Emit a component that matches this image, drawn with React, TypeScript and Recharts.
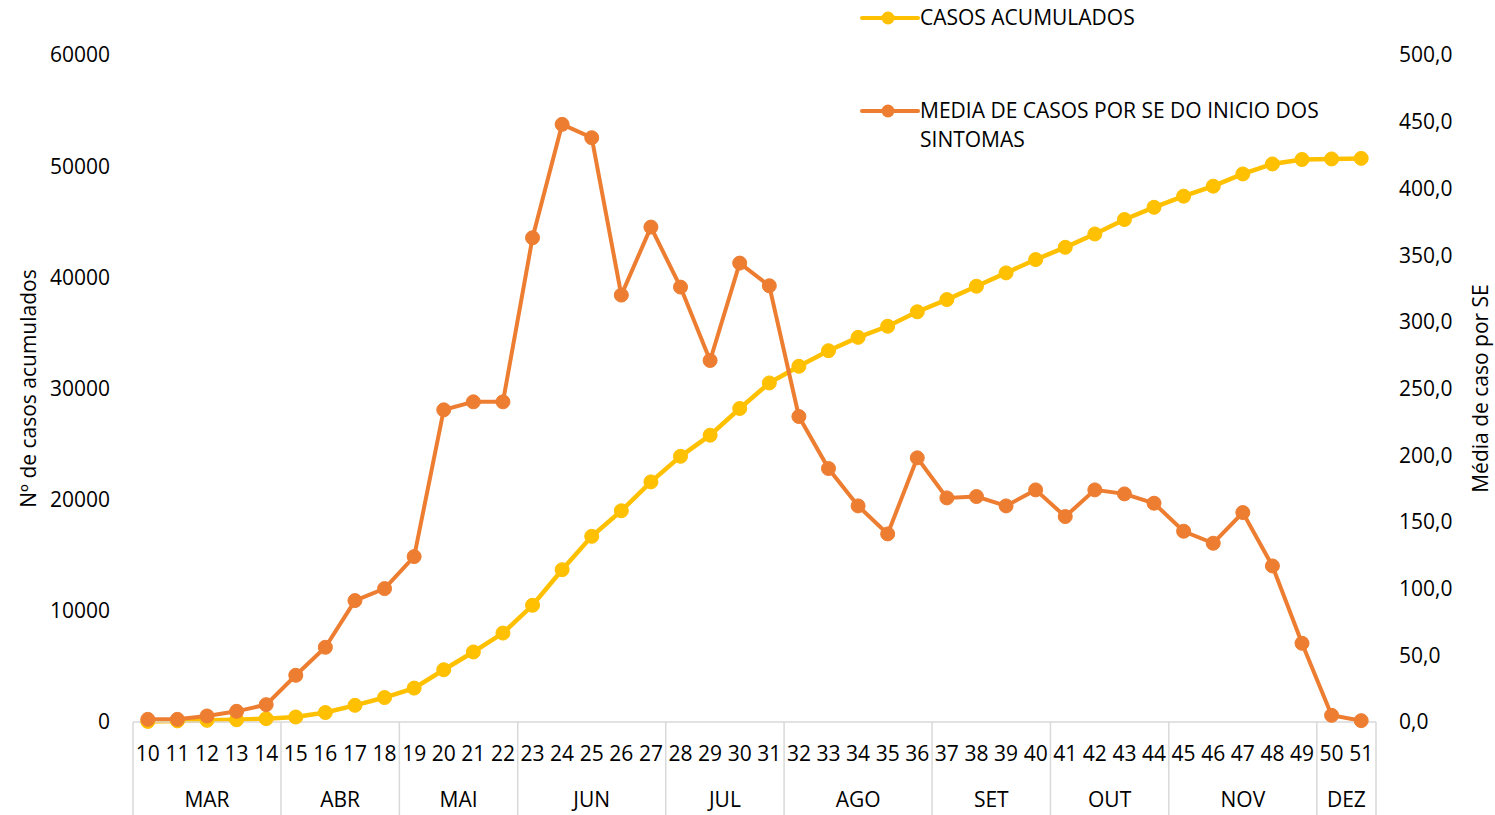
import React from "react";
import { Line, LineChart, XAxis, YAxis } from "recharts";

const weeks = [
  "10", "11", "12", "13", "14", "15", "16", "17", "18", "19", "20", "21", "22", "23",
  "24", "25", "26", "27", "28", "29", "30", "31", "32", "33", "34", "35", "36", "37",
  "38", "39", "40", "41", "42", "43", "44", "45", "46", "47", "48", "49", "50", "51",
];

const monthNames = ["MAR", "ABR", "MAI", "JUN", "JUL", "AGO", "SET", "OUT", "NOV", "DEZ"];
const monthSpans = [5, 4, 4, 5, 4, 5, 4, 4, 5, 2];

const casosAcumulados = [
  50, 100, 150, 200, 300, 450, 850, 1500, 2200, 3050, 4700, 6300, 8000, 10500,
  13700, 16700, 19000, 21600, 23900, 25800, 28200, 30500, 32000, 33400, 34600, 35600, 36900, 38000,
  39200, 40400, 41600, 42700, 43900, 45200, 46300, 47300, 48200, 49300, 50200, 50600, 50650, 50700,
];

const mediaCasos = [
  2, 2, 4.5, 8, 13, 35, 56, 91, 100, 124, 234, 240, 240, 363,
  448, 438, 320, 371, 326, 271, 344, 327, 229, 190, 162, 141, 198, 168,
  169, 162, 174, 154, 174, 171, 164, 143, 134, 157, 117, 59, 5, 1,
];

const leftTicks = [0, 10000, 20000, 30000, 40000, 50000, 60000];
const rightTicks = [0, 50, 100, 150, 200, 250, 300, 350, 400, 450, 500];

const data = weeks.map((w, i) => ({
  week: w,
  acumulados: casosAcumulados[i],
  media: mediaCasos[i],
}));

const YELLOW = "#FFC000";
const ORANGE = "#ED7D31";
const GRID = "#D9D9D9";
const FONT = "'Open Sans', sans-serif";
const FS = 21;
const PLOT_LEFT = 133;
const PLOT_RIGHT = 1376;
const BAND = (PLOT_RIGHT - PLOT_LEFT) / weeks.length;

const groupStarts: Record<number, number> = {};
{
  let acc = 0;
  monthSpans.forEach((span, m) => {
    groupStarts[acc] = m;
    acc += span;
  });
}

function WeekTick(props: any) {
  const { x, y, payload, index } = props;
  const m = groupStarts[index];
  return (
    <g>
      <text
        x={x}
        y={y + 31}
        textAnchor="middle"
        dominantBaseline="central"
        fontSize={FS}
        fontFamily={FONT}
        fill="#000"
      >
        {payload.value}
      </text>
      {m !== undefined && (
        <>
          <line x1={x - BAND / 2} x2={x - BAND / 2} y1={y} y2={y + 93} stroke={GRID} strokeWidth={1.5} />
          <text
            x={x + ((monthSpans[m] - 1) * BAND) / 2}
            y={y + 77}
            textAnchor="middle"
            dominantBaseline="central"
            fontSize={FS}
            fontFamily={FONT}
            fill="#000"
          >
            {monthNames[m]}
          </text>
        </>
      )}
      {index === weeks.length - 1 && (
        <line x1={x + BAND / 2} x2={x + BAND / 2} y1={y} y2={y + 93} stroke={GRID} strokeWidth={1.5} />
      )}
    </g>
  );
}

function LegendBox() {
  const item = (color: string, label: string, top: number) => (
    <div style={{ position: "absolute", left: 0, top, display: "flex", alignItems: "flex-start" }}>
      <svg width={60} height={24} style={{ flex: "none" }}>
        <line x1={2} x2={58} y1={12} y2={12} stroke={color} strokeWidth={4} strokeLinecap="round" />
        <circle cx={28} cy={12} r={6.5} fill={color} />
      </svg>
      <div style={{ width: 420, fontSize: FS, lineHeight: "29px", marginTop: -3, color: "#000", fontFamily: FONT }}>
        {label}
      </div>
    </div>
  );
  return (
    <div style={{ position: "absolute", left: 860, top: 0, width: 480, height: 160 }}>
      {item(YELLOW, "CASOS ACUMULADOS", 6)}
      {item(ORANGE, "MEDIA DE CASOS POR SE DO INICIO DOS SINTOMAS", 99)}
    </div>
  );
}

export default function App() {
  return (
    <div style={{ position: "absolute", left: 0, top: 0, width: 1495, height: 815, background: "#fff" }}>
      <LineChart width={1495} height={815} data={data} margin={{ top: 55, right: 0, bottom: 0, left: 0 }}>
        <XAxis
          dataKey="week"
          interval={0}
          height={93}
          padding={{ left: BAND / 2, right: BAND / 2 }}
          tickLine={false}
          tickSize={0}
          tickMargin={0}
          axisLine={{ stroke: GRID, strokeWidth: 1.5 }}
          tick={<WeekTick />}
        />
        <YAxis
          yAxisId="left"
          orientation="left"
          width={133}
          domain={[0, 60000]}
          ticks={leftTicks}
          axisLine={false}
          tickLine={false}
          tickSize={0}
          tickMargin={23}
          tick={{ fontSize: FS, fontFamily: FONT, fill: "#000" }}
          label={(p: any) => {
            const vb = p.viewBox;
            const cx = vb.x + 28;
            const cy = vb.y + vb.height / 2;
            return (
              <text
                x={cx}
                y={cy}
                transform={`rotate(-90 ${cx} ${cy})`}
                textAnchor="middle"
                dominantBaseline="central"
                fontSize={FS}
                fontFamily={FONT}
                fill="#000"
              >
                Nº de casos acumulados
              </text>
            );
          }}
        />
        <YAxis
          yAxisId="right"
          orientation="right"
          width={119}
          domain={[0, 500]}
          ticks={rightTicks}
          axisLine={false}
          tickLine={false}
          tickSize={0}
          tickMargin={23}
          tickFormatter={(v: number) => v.toFixed(1).replace(".", ",")}
          tick={{ fontSize: FS, fontFamily: FONT, fill: "#000" }}
          label={(p: any) => {
            const vb = p.viewBox;
            const cx = vb.x + 104;
            const cy = vb.y + vb.height / 2;
            return (
              <text
                x={cx}
                y={cy}
                transform={`rotate(-90 ${cx} ${cy})`}
                textAnchor="middle"
                dominantBaseline="central"
                fontSize={FS}
                fontFamily={FONT}
                fill="#000"
              >
                Média de caso por SE
              </text>
            );
          }}
        />
        <Line
          yAxisId="left"
          type="linear"
          dataKey="acumulados"
          name="CASOS ACUMULADOS"
          stroke={YELLOW}
          strokeWidth={4.5}
          dot={{ r: 7, fill: YELLOW, stroke: YELLOW, strokeWidth: 1 }}
          activeDot={false}
          isAnimationActive={false}
        />
        <Line
          yAxisId="right"
          type="linear"
          dataKey="media"
          name="MEDIA DE CASOS POR SE DO INICIO DOS SINTOMAS"
          stroke={ORANGE}
          strokeWidth={4}
          dot={{ r: 7, fill: ORANGE, stroke: ORANGE, strokeWidth: 1 }}
          activeDot={false}
          isAnimationActive={false}
        />
      </LineChart>
      <LegendBox />
    </div>
  );
}
